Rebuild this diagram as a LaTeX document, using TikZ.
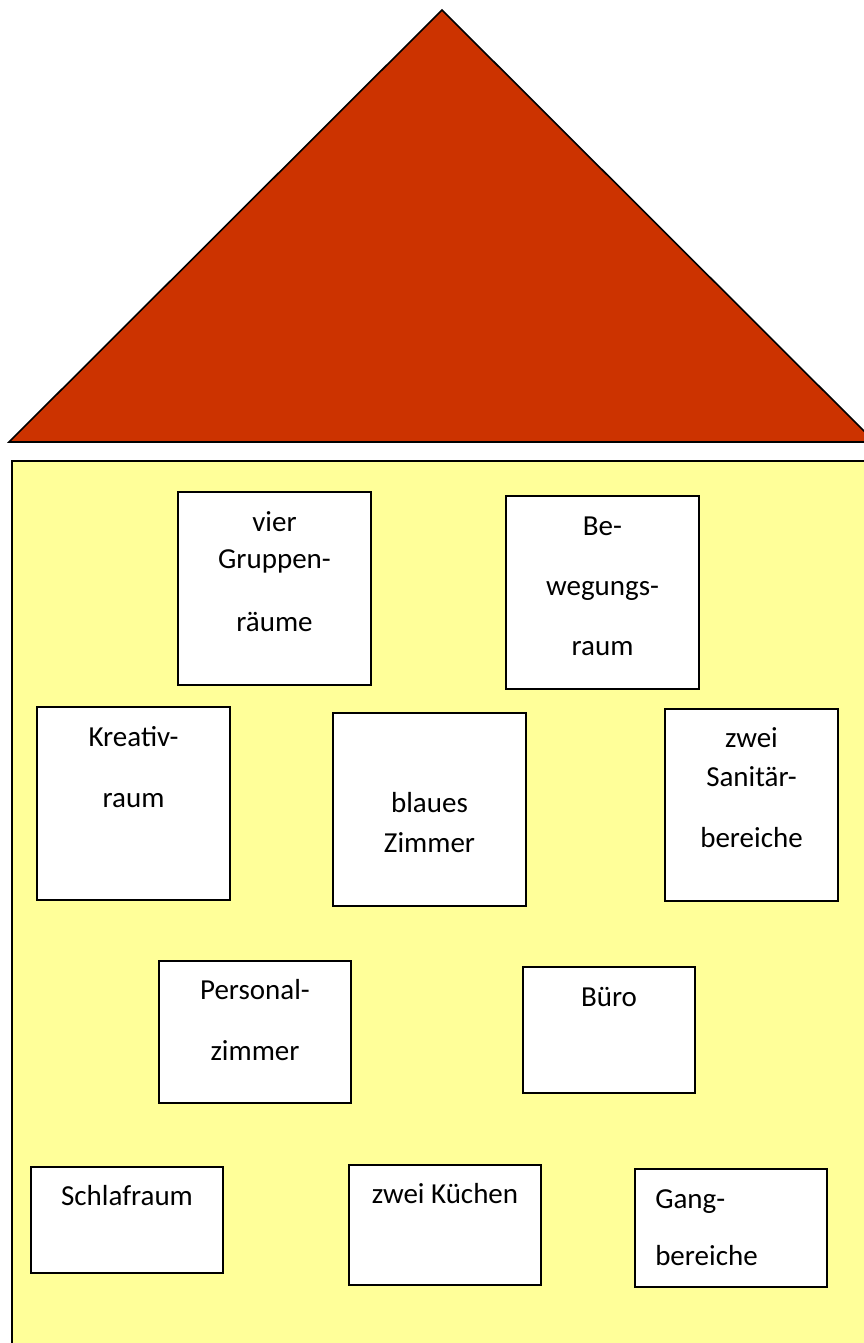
\documentclass[tikz,border=0pt]{standalone}
\usepackage{fontspec}
\setmainfont{Carlito}
\usetikzlibrary{fit}
\definecolor{roofred}{RGB}{204,51,0}
\definecolor{wallyellow}{RGB}{255,255,153}
\tikzset{
  roof/.style={fill=roofred, draw=black, line width=1.2pt, line join=miter},
  wall/.style={fill=wallyellow, draw=black, line width=1.5pt},
  room/.style={draw=black, fill=white, line width=1.5pt, inner sep=0pt, rectangle},
  txt/.style={anchor=base, inner sep=0pt, font=\fontsize{21.75}{26}\selectfont},
  txtl/.style={txt, anchor=base west}
}
\begin{document}
\begin{tikzpicture}[x=0.75pt, y=-0.75pt]
\useasboundingbox (0,0) rectangle (864,1343);
\clip (0,0) rectangle (864,1343);
% roof
\draw[roof] (9,442) -- (442,10) -- (875,442) -- cycle;
% house body
\draw[wall] (12,461) rectangle (890,1370);
% rooms
\node[room, fit={(178,492) (371,685)}] (gruppen) {};
\node[txt] (gruppen1) at (274.5,531) {vier};
\node[txt] (gruppen2) at (274.5,568) {Gruppen-};
\node[txt] (gruppen3) at (274.5,631) {räume};

\node[room, fit={(506,496) (699,689)}] (bewegung) {};
\node[txt] (bewegung1) at (602.5,535) {Be-};
\node[txt] (bewegung2) at (602.5,595) {wegungs-};
\node[txt] (bewegung3) at (602.5,655) {raum};

\node[room, fit={(37,707) (230,900)}] (kreativ) {};
\node[txt] (kreativ1) at (133.5,746) {Kreativ-};
\node[txt] (kreativ2) at (133.5,807) {raum};

\node[room, fit={(333,713) (526,906)}] (blau) {};
\node[txt] (blau1) at (429.5,812) {blaues};
\node[txt] (blau2) at (429.5,852) {Zimmer};

\node[room, fit={(665,709) (838,901)}] (sanitaer) {};
\node[txt] (sanitaer1) at (751.5,747) {zwei};
\node[txt] (sanitaer2) at (751.5,786) {Sanitär-};
\node[txt] (sanitaer3) at (751.5,847) {bereiche};

\node[room, fit={(159,961) (351,1103)}] (personal) {};
\node[txt] (personal1) at (255,999) {Personal-};
\node[txt] (personal2) at (255,1060) {zimmer};

\node[room, fit={(523,967) (695,1093)}] (buero) {};
\node[txt] (buero1) at (609,1006) {Büro};

\node[room, fit={(31,1167) (223,1273)}] (schlaf) {};
\node[txt] (schlaf1) at (127,1205) {Schlafraum};

\node[room, fit={(349,1165) (541,1285)}] (kuechen) {};
\node[txt] (kuechen1) at (445,1203) {zwei Küchen};

\node[room, fit={(635,1169) (827,1287)}] (gang) {};
\node[txtl] (gang1) at (655,1208) {Gang-};
\node[txtl] (gang2) at (655,1265) {bereiche};
\end{tikzpicture}
\end{document}
